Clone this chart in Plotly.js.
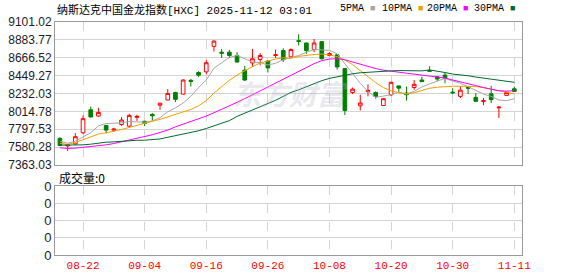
<!DOCTYPE html>
<html>
<head>
<meta charset="utf-8">
<script src="https://cdn.plot.ly/plotly-3.0.1.min.js"></script>
<style>html,body{margin:0;padding:0;background:#fff;}#chart{width:578px;height:276px;}</style>
</head>
<body>
<div id="chart"></div>
<script>
// ---- data ----
const dates = ['08-19','08-20','08-21','08-22','08-25','08-26','08-27','08-28','08-29','09-02',
  '09-03','09-04','09-05','09-08','09-09','09-10','09-11','09-12','09-15','09-16',
  '09-17','09-18','09-19','09-22','09-23','09-24','09-25','09-26','09-29','09-30',
  '10-01','10-02','10-03','10-06','10-07','10-08','10-09','10-10','10-13','10-14',
  '10-15','10-16','10-17','10-20','10-21','10-22','10-23','10-24','10-27','10-28',
  '10-29','10-30','10-31','11-03','11-04','11-05','11-06','11-07','11-10','11-11'];
const openV = [7687,7595,7620,7755,8034,7958,7843,7787,7855,7835,
  7942,7895,7978,8090,8153,8245,8225,8392,8487,8495,
  8805,8734,8734,8694,8515,8603,8646,8626,8694,8754,
  8678,8874,8846,8766,8862,8694,8702,8535,8245,8082,
  8257,8245,8086,8217,8324,8237,8305,8396,8511,8436,
  8456,8249,8197,8305,8185,8133,8229,8058,8209,8289];
const highV = [7700,7620,7751,7966,8074,8058,7847,7815,7946,7986,
  7974,7899,7994,8118,8285,8253,8404,8410,8503,8638,
  8877,8774,8762,8734,8567,8774,8722,8634,8766,8782,
  8782,8953,8850,8894,8870,8734,8710,8543,8305,8217,
  8344,8257,8173,8376,8328,8317,8396,8436,8563,8440,
  8483,8297,8317,8317,8237,8177,8325,8078,8257,8317];
const lowV = [7590,7532,7612,7740,7942,7950,7747,7767,7839,7819,
  7899,7835,7903,8034,8150,8129,8217,8317,8435,8463,
  8742,8663,8663,8607,8384,8555,8575,8487,8662,8615,
  8670,8815,8714,8734,8643,8682,8523,7970,8225,8026,
  8197,8169,8078,8201,8245,8145,8277,8376,8495,8384,
  8356,8225,8177,8225,8129,8090,8117,7935,8201,8257];
const closeV = [7600,7612,7707,7926,7946,8002,7787,7799,7910,7966,
  7954,7867,7962,8114,8233,8161,8396,8380,8455,8606,
  8869,8722,8694,8615,8396,8654,8694,8543,8702,8643,
  8766,8866,8754,8846,8655,8718,8555,8026,8285,8117,
  8269,8197,8169,8368,8297,8217,8344,8376,8503,8408,
  8416,8241,8273,8297,8137,8145,8157,8066,8245,8257];
const ma5 = [7652,7628,7652,7700,7755,7839,7867,7871,7875,7891,
  7891,7883,7899,7938,8010,8058,8117,8197,8304,8396,
  8539,8607,8671,8694,8659,8615,8607,8579,8599,8643,
  8667,8694,8734,8766,8762,8758,8714,8595,8476,8356,
  8257,8185,8201,8217,8249,8229,8257,8312,8348,8384,
  8416,8384,8356,8316,8269,8225,8197,8153,8145,8169];
const ma10 = [7628,7612,7636,7668,7704,7739,7755,7771,7795,7819,
  7847,7871,7894,7918,7946,7978,8010,8038,8082,8145,
  8237,8320,8392,8456,8511,8559,8603,8631,8651,8667,
  8659,8683,8698,8706,8710,8702,8679,8639,8583,8511,
  8436,8364,8304,8265,8241,8225,8241,8273,8296,8308,
  8316,8320,8320,8320,8316,8304,8285,8265,8253,8229];
const ma20 = [7572,7564,7568,7576,7584,7592,7608,7624,7644,7668,
  7687,7707,7731,7759,7787,7827,7859,7890,7922,7958,
  7998,8038,8082,8125,8169,8217,8261,8304,8356,8404,
  8448,8495,8543,8595,8631,8651,8655,8643,8615,8587,
  8559,8535,8515,8503,8491,8484,8468,8456,8444,8432,
  8420,8396,8376,8352,8328,8304,8281,8265,8261,8265];
const ma30 = [7604,7604,7604,7608,7616,7632,7640,7644,7652,7660,
  7664,7664,7668,7680,7700,7720,7739,7755,7779,7807,
  7839,7867,7902,7954,7994,8030,8066,8109,8149,8197,
  8245,8277,8316,8352,8388,8416,8436,8456,8472,8484,
  8491,8499,8503,8507,8511,8511,8507,8507,8519,8507,
  8487,8468,8460,8448,8432,8420,8408,8392,8380,8368];
const volume = dates.map(() => 0);
const maNames = ['5PMA','10PMA','20PMA','30PMA'];
const maColors = ['#a6a6a6','#f0a000','#ff00ff','#006a2e'];
const tickDates = ['08-22','09-04','09-16','09-26','10-08','10-20','10-30','11-11'];
const yTickVals = [7363.03,7580.28,7797.53,8014.78,8232.03,8449.27,8666.52,8883.77,9101.02];
const yTickText = ['7363.03','7580.28','7797.53','8014.78','8232.03','8449.27','8666.52','8883.77','9101.02'];
const volTickVals = [0,1,2,3,4];
const volTickText = ['0','0','0','0','0'];
const titleText = '纳斯达克中国金龙指数[HXC] 2025-11-12 03:01';
const volLabel = '成交量:0';
const watermark = '东方财富';

// ---- layout geometry (pixels) ----
const W = 578, H = 276;
const L = 55, R = 522, T = 22, B = 255;
const mainBottom = 165, volTop = 186;
const ph = B - T, pw = R - L;
const px = x => (x - L) / pw;
const py = y => (B - y) / ph;

const maSeries = [ma5, ma10, ma20, ma30];
const traces = [];
maSeries.forEach((s, i) => traces.push({
  type: 'scatter', mode: 'lines', x: dates, y: s, xaxis: 'x', yaxis: 'y',
  line: {color: maColors[i], width: 1}, hoverinfo: 'skip'
}));
traces.push({
  type: 'candlestick', x: dates, open: openV, high: highV, low: lowV, close: closeV,
  xaxis: 'x', yaxis: 'y', whiskerwidth: 0,
  increasing: {line: {color: '#ff0000', width: 1}, fillcolor: '#ffffff'},
  decreasing: {line: {color: '#008000', width: 1}, fillcolor: '#008000'}
});
traces.push({type: 'scatter', mode: 'lines', x: dates, y: volume, xaxis: 'x2', yaxis: 'y2',
  line: {color: 'rgba(0,0,0,0)', width: 0}, hoverinfo: 'skip'});

const gridCol = '#d4d4d4', frameCol = '#999999';
const xCommon = {
  type: 'category', range: [-0.64, 60.0], tickvals: tickDates, ticktext: tickDates,
  showgrid: true, griddash: 'dash', gridcolor: gridCol, gridwidth: 1,
  showline: true, mirror: true, linecolor: frameCol, linewidth: 1,
  zeroline: false, ticks: '', fixedrange: true
};
const annotations = [];
const legendX = [338, 380, 425, 472];
maNames.forEach((n, i) => annotations.push({
  xref: 'paper', yref: 'paper', x: px(legendX[i]), y: py(9), xanchor: 'left', yanchor: 'middle',
  text: n + ' <span style="color:' + maColors[i] + ';font-size:9px">■</span>', showarrow: false,
  font: {family: 'Liberation Mono, monospace', size: 10, color: '#000'}
}));
annotations.push({
  xref: 'paper', yref: 'paper', x: px(57), y: py(177), xanchor: 'left', yanchor: 'middle',
  text: volLabel, showarrow: false,
  font: {family: 'Noto Sans CJK SC', size: 12, color: '#000'}
});
annotations.push({
  xref: 'paper', yref: 'paper', x: px(291), y: py(93), xanchor: 'center', yanchor: 'middle',
  text: '<b><i>' + watermark + '</i></b>', showarrow: false,
  font: {family: 'Noto Sans CJK SC', size: 28, color: 'rgba(175,175,195,0.3)'}
});

const layout = {
  width: W, height: H,
  margin: {l: L, r: W - R, t: T, b: H - B, pad: 0},
  paper_bgcolor: '#ffffff', plot_bgcolor: '#ffffff',
  showlegend: false, boxgap: 0.32,
  title: {
    text: titleText, xref: 'paper', x: px(57), xanchor: 'left',
    yref: 'container', y: 1 - 10 / H, yanchor: 'middle',
    font: {family: 'Liberation Mono, Noto Sans CJK SC', size: 11, color: '#000'}
  },
  xaxis: Object.assign({}, xCommon, {anchor: 'y', showticklabels: false, rangeslider: {visible: false}}),
  xaxis2: Object.assign({}, xCommon, {anchor: 'y2', showticklabels: true,
    tickfont: {family: 'Liberation Mono, monospace', size: 11, color: '#ff0000'}}),
  yaxis: {
    domain: [py(mainBottom), 1], range: [7363.03, 9101.02], tickvals: yTickVals, ticktext: yTickText,
    showgrid: true, gridcolor: gridCol, showline: true, mirror: true, linecolor: frameCol,
    zeroline: false, ticks: '', fixedrange: true,
    tickfont: {family: 'Liberation Sans, Arial', size: 12, color: '#1a1a2a'}
  },
  yaxis2: {
    domain: [0, py(volTop)], range: [0, 4], tickvals: volTickVals, ticktext: volTickText, anchor: 'x2',
    showticklabels: true,
    showgrid: true, gridcolor: gridCol, showline: true, mirror: true, linecolor: frameCol,
    zeroline: false, ticks: '', fixedrange: true,
    tickfont: {family: 'Liberation Sans, Arial', size: 13, color: '#1a1a2a'}
  },
  annotations: annotations
};
Plotly.newPlot('chart', traces, layout, {displayModeBar: false, staticPlot: true});
</script>
</body>
</html>
